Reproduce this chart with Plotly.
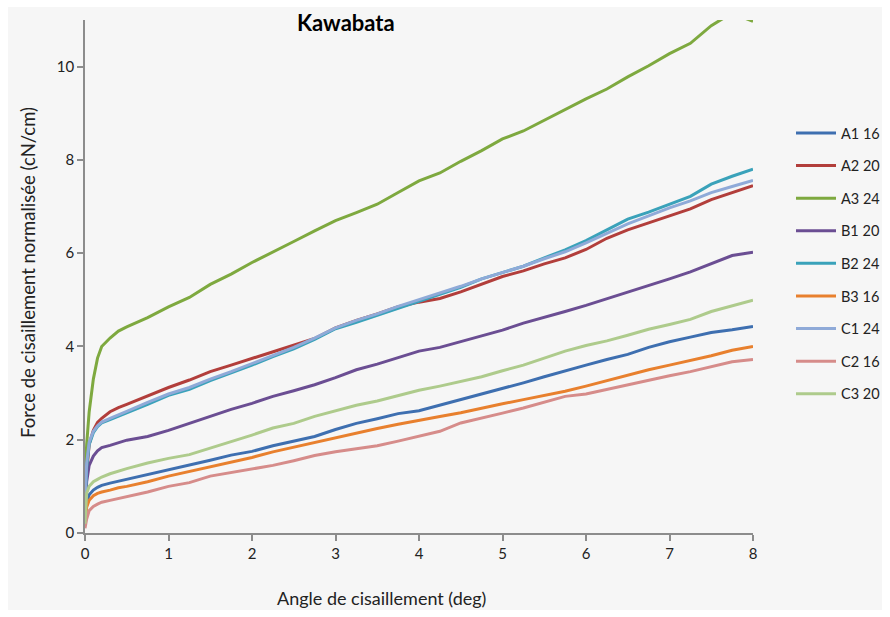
import plotly.graph_objects as go

# Shared x grid (shear angle, deg)
angle = [0, 0.02, 0.05, 0.1, 0.15, 0.2, 0.3, 0.4, 0.5, 0.75, 1.0, 1.25, 1.5, 1.75, 2.0,
         2.25, 2.5, 2.75, 3.0, 3.25, 3.5, 3.75, 4.0, 4.25, 4.5, 4.75, 5.0, 5.25, 5.5,
         5.75, 6.0, 6.25, 6.5, 6.75, 7.0, 7.25, 7.5, 7.75, 8.0]

A1_16 = [0.3, 0.65, 0.82, 0.92, 0.98, 1.02, 1.07, 1.11, 1.15, 1.25, 1.36, 1.46, 1.56, 1.67, 1.75,
         1.87, 1.97, 2.07, 2.22, 2.35, 2.45, 2.56, 2.62, 2.74, 2.86, 2.97, 3.10, 3.22, 3.35,
         3.48, 3.60, 3.72, 3.83, 3.98, 4.10, 4.20, 4.30, 4.36, 4.43]
A2_20 = [0.5, 1.3, 1.9, 2.2, 2.37, 2.46, 2.6, 2.69, 2.76, 2.94, 3.12, 3.28, 3.46, 3.6, 3.74,
         3.88, 4.02, 4.17, 4.40, 4.56, 4.70, 4.85, 4.95, 5.03, 5.17, 5.34, 5.50, 5.62, 5.77,
         5.90, 6.08, 6.32, 6.50, 6.65, 6.80, 6.95, 7.15, 7.30, 7.45]
A3_24 = [1.2, 1.9, 2.6, 3.3, 3.75, 4.0, 4.18, 4.33, 4.42, 4.62, 4.85, 5.05, 5.33, 5.55, 5.80,
         6.02, 6.25, 6.48, 6.70, 6.87, 7.05, 7.30, 7.55, 7.72, 7.97, 8.20, 8.45, 8.62, 8.85,
         9.07, 9.31, 9.52, 9.78, 10.02, 10.28, 10.50, 10.88, 11.15, 10.97]
B1_20 = [0.4, 1.1, 1.45, 1.65, 1.76, 1.83, 1.88, 1.94, 1.99, 2.07, 2.20, 2.35, 2.50, 2.65, 2.78,
         2.93, 3.05, 3.18, 3.33, 3.50, 3.62, 3.76, 3.90, 3.98, 4.10, 4.22, 4.35, 4.50, 4.62,
         4.75, 4.88, 5.02, 5.17, 5.30, 5.45, 5.60, 5.78, 5.95, 6.02]
B2_24 = [0.6, 1.4, 1.9, 2.15, 2.28, 2.36, 2.43, 2.5, 2.58, 2.76, 2.95, 3.08, 3.27, 3.43, 3.60,
         3.78, 3.95, 4.15, 4.38, 4.52, 4.67, 4.83, 4.97, 5.12, 5.27, 5.45, 5.58, 5.72, 5.90,
         6.07, 6.27, 6.50, 6.73, 6.88, 7.05, 7.22, 7.48, 7.65, 7.80]
B3_16 = [0.2, 0.55, 0.7, 0.8, 0.85, 0.88, 0.92, 0.97, 1.0, 1.1, 1.22, 1.32, 1.41, 1.52, 1.62,
         1.74, 1.84, 1.94, 2.05, 2.15, 2.24, 2.33, 2.42, 2.50, 2.58, 2.68, 2.77, 2.86, 2.95,
         3.04, 3.15, 3.27, 3.38, 3.50, 3.60, 3.70, 3.80, 3.92, 4.00]
C1_24 = [0.7, 1.5, 1.95, 2.18, 2.3, 2.38, 2.46, 2.53, 2.61, 2.8, 2.98, 3.12, 3.30, 3.46, 3.63,
         3.81, 3.98, 4.18, 4.40, 4.56, 4.70, 4.86, 5.00, 5.14, 5.29, 5.45, 5.58, 5.72, 5.88,
         6.03, 6.22, 6.43, 6.63, 6.80, 6.97, 7.12, 7.30, 7.43, 7.56]
C2_16 = [0.1, 0.3, 0.48, 0.57, 0.62, 0.66, 0.7, 0.74, 0.78, 0.88, 1.0, 1.08, 1.22, 1.30, 1.38,
         1.45, 1.55, 1.66, 1.74, 1.80, 1.87, 1.97, 2.08, 2.18, 2.36, 2.46, 2.57, 2.68, 2.80,
         2.93, 2.98, 3.08, 3.18, 3.28, 3.37, 3.46, 3.56, 3.67, 3.72]
C3_20 = [0.2, 0.85, 1.0, 1.1, 1.15, 1.2, 1.27, 1.33, 1.38, 1.5, 1.6, 1.68, 1.82, 1.95, 2.10,
         2.25, 2.35, 2.50, 2.62, 2.74, 2.83, 2.95, 3.06, 3.15, 3.25, 3.35, 3.48, 3.60, 3.75,
         3.90, 4.02, 4.12, 4.24, 4.37, 4.47, 4.58, 4.75, 4.87, 4.99]

series_names = ["A1 16", "A2 20", "A3 24", "B1 20", "B2 24", "B3 16", "C1 24", "C2 16", "C3 20"]
series_values = [A1_16, A2_20, A3_24, B1_20, B2_24, B3_16, C1_24, C2_16, C3_20]
colors = ["#3E6FB0", "#B23E3B", "#7EA93F", "#6B4E93", "#3AA2BA", "#E8802E",
          "#8FAAD8", "#D68C8A", "#AECB8C"]

x_ticks = [0, 1, 2, 3, 4, 5, 6, 7, 8]
y_ticks = [0, 2, 4, 6, 8, 10]

FONT = "Lato, 'Open Sans', sans-serif"

fig = go.Figure()
for name, vals, col in zip(series_names, series_values, colors):
    fig.add_trace(go.Scatter(x=angle, y=vals, mode="lines", name=name,
                             legendgroup=name,
                             line=dict(color=col, width=3)))

L, R, T, B = 85, 137, 20, 84
W, H = 890, 617
pw, ph = W - L - R, H - T - B

fig.update_layout(
    width=W, height=H,
    autosize=False,
    margin=dict(l=L, r=R, t=T, b=B, autoexpand=False),
    paper_bgcolor="white",
    plot_bgcolor="rgba(0,0,0,0)",
    font=dict(family=FONT, size=15, color="#222"),
    showlegend=True,
    legend=dict(xref="container", yref="container",
                x=791 / W, y=1 - 117 / H, xanchor="left", yanchor="top",
                bgcolor="rgba(0,0,0,0)", font=dict(size=14.5, color="#222"),
                tracegroupgap=10.75, itemwidth=40),
    xaxis=dict(range=[0, 8], tickvals=x_ticks, showgrid=False, zeroline=False,
               showline=True, linecolor="#8c8c8c", linewidth=1.5,
               ticks="outside", ticklen=6, tickcolor="#8c8c8c", tickwidth=1.5,
               tickfont=dict(size=15, color="#222")),
    yaxis=dict(range=[0, 11], tickvals=y_ticks, showgrid=False, zeroline=False,
               showline=True, linecolor="#8c8c8c", linewidth=1.5,
               ticks="outside", ticklen=6, tickcolor="#8c8c8c", tickwidth=1.5,
               tickfont=dict(size=15, color="#222")),
    shapes=[dict(type="rect", xref="paper", yref="paper", layer="below",
                 x0=(8 - L) / pw, x1=(882 - L) / pw,
                 y0=(533 - 610) / ph, y1=(533 - 7) / ph,
                 fillcolor="#f6f6f6", line=dict(width=0))],
    annotations=[
        dict(text="<b>Kawabata</b>", xref="paper", yref="paper",
             x=(346 - L) / pw, y=(533 - 22) / ph, xanchor="center", yanchor="middle",
             showarrow=False, font=dict(size=22, color="#000", family=FONT)),
        dict(text="Angle de cisaillement (deg)", xref="paper", yref="paper",
             x=(381 - L) / pw, y=(533 - 598) / ph, xanchor="center", yanchor="middle",
             showarrow=False, font=dict(size=18, color="#222", family=FONT)),
        dict(text="Force de cisaillement normalisée (cN/cm)", xref="paper", yref="paper",
             x=(28 - L) / pw, y=(533 - 273) / ph, xanchor="center", yanchor="middle",
             textangle=-90, showarrow=False, font=dict(size=18.5, color="#222", family=FONT)),
    ],
)

fig.write_html("out.html",
               config={"displayModeBar": False},
               post_script="document.body.style.margin='0';document.body.style.overflow='hidden';")
